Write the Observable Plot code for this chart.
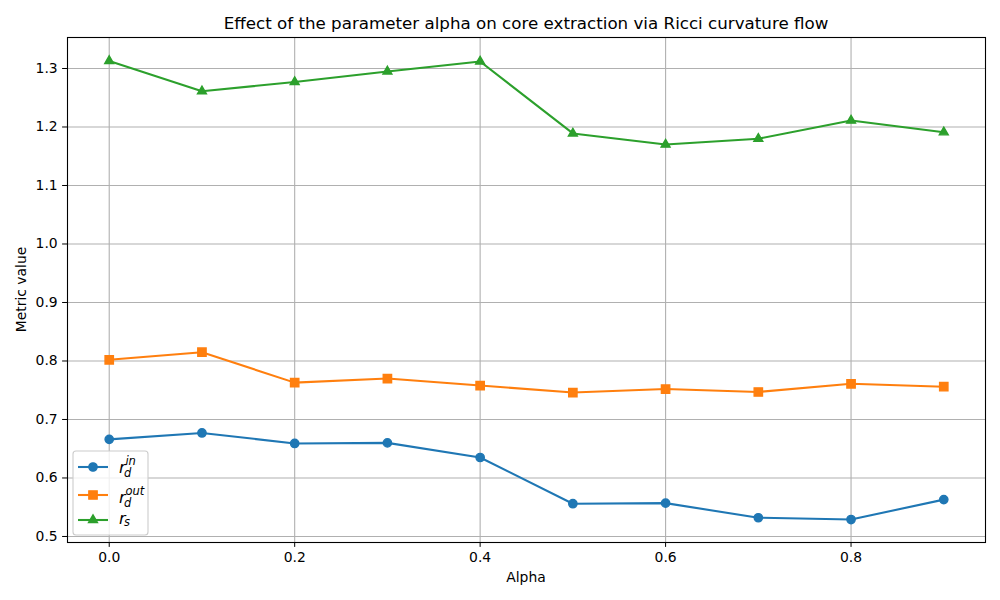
<!DOCTYPE html>
<html>
<head>
<meta charset="utf-8">
<script src="https://cdn.jsdelivr.net/npm/d3@7"></script>
<script src="https://cdn.jsdelivr.net/npm/@observablehq/plot@0.6"></script>
<style>
  html, body { margin: 0; padding: 0; background: white; }
  #chart { width: 1000px; height: 600px; }
</style>
</head>
<body>
<div id="chart"></div>
<script>
const alpha = [0.0, 0.1, 0.2, 0.3, 0.4, 0.5, 0.6, 0.7, 0.8, 0.9];
const rdIn  = [0.666, 0.677, 0.659, 0.660, 0.635, 0.556, 0.557, 0.532, 0.529, 0.563];
const rdOut = [0.802, 0.815, 0.763, 0.770, 0.758, 0.746, 0.752, 0.747, 0.761, 0.756];
const rs    = [1.313, 1.261, 1.277, 1.295, 1.312, 1.189, 1.170, 1.180, 1.211, 1.191];
const xTicks = [0.0, 0.2, 0.4, 0.6, 0.8];
const yTicks = [0.5, 0.6, 0.7, 0.8, 0.9, 1.0, 1.1, 1.2, 1.3];
const seriesNames = ["rdIn", "rdOut", "rs"];
const seriesColors = ["#1f77b4", "#ff7f0e", "#2ca02c"];
const seriesSymbols = ["circle", "square", "triangle"];
const legendBase = ["r", "r", "r"];
const legendSub = ["d", "d", "s"];
const legendSup = ["in", "out", ""];
const title = "Effect of the parameter alpha on core extraction via Ricci curvature flow";
const xLabel = "Alpha";
const yLabel = "Metric value";

const seriesValues = [rdIn, rdOut, rs];
const rows = [];
seriesValues.forEach((vals, i) => vals.forEach((v, j) => rows.push({series: seriesNames[i], alpha: alpha[j], value: v})));

const W = 1000, H = 600, mL = 67, mR = 15, mT = 37, mB = 58;
const fs = 13.9;
const symR = {circle: 4.17, square: 4.7, triangle: 3.32};
const edge = 1.39;

const marks = [
  Plot.gridX(xTicks, {stroke: "#b0b0b0", strokeOpacity: 1, strokeWidth: 1.1}),
  Plot.gridY(yTicks, {stroke: "#b0b0b0", strokeOpacity: 1, strokeWidth: 1.1}),
];
seriesNames.forEach((s, i) => {
  const d = rows.filter(r => r.series === s);
  marks.push(Plot.line(d, {x: "alpha", y: "value", stroke: seriesColors[i], strokeWidth: 2.08}));
  marks.push(Plot.dot(d, {x: "alpha", y: "value", fill: seriesColors[i], stroke: seriesColors[i], strokeWidth: edge, symbol: seriesSymbols[i], r: symR[seriesSymbols[i]]}));
});
marks.push(Plot.frame({stroke: "black", strokeWidth: 1.1}));
marks.push(Plot.axisX(xTicks, {tickFormat: d => d.toFixed(1), tickSize: 4.9, tickPadding: 4.5, label: null, fontSize: fs, stroke: "black"}));
marks.push(Plot.axisY(yTicks, {tickFormat: d => d.toFixed(1), tickSize: 4.9, tickPadding: 4.9, label: null, fontSize: fs, stroke: "black"}));

const svg = Plot.plot({
  width: W, height: H,
  marginLeft: mL, marginRight: mR, marginTop: mT, marginBottom: mB,
  style: {fontFamily: "DejaVu Sans", fontSize: fs + "px", background: "white", color: "black"},
  x: {domain: [-0.045, 0.945]},
  y: {domain: [0.4897, 1.353]},
  marks
});

const g = d3.select(svg);
const cx = (mL + (W - mR)) / 2;
g.append("text").attr("x", cx).attr("y", 29).attr("text-anchor", "middle")
  .attr("font-family", "DejaVu Sans").attr("font-size", 16.7).attr("fill", "black").text(title);
g.append("text").attr("x", cx).attr("y", 582).attr("text-anchor", "middle")
  .attr("font-family", "DejaVu Sans").attr("font-size", fs).attr("fill", "black").text(xLabel);
g.append("text").attr("transform", `translate(26,${(mT + H - mB) / 2}) rotate(-90)`).attr("text-anchor", "middle")
  .attr("font-family", "DejaVu Sans").attr("font-size", fs).attr("fill", "black").text(yLabel);

// legend
const lg = g.append("g").attr("text-anchor", "start");
lg.append("rect").attr("x", 73).attr("y", 451).attr("width", 75).attr("height", 84).attr("rx", 3)
  .attr("fill", "white").attr("fill-opacity", 0.8).attr("stroke", "#cccccc").attr("stroke-width", 1.1);
const rowsY = [467, 495, 520];
const baseY = [472.5, 502.5, 523.5];
const symMap = {circle: d3.symbolCircle, square: d3.symbolSquare, triangle: d3.symbolTriangle};
seriesNames.forEach((s, i) => {
  const y = rowsY[i];
  lg.append("line").attr("x1", 78).attr("x2", 108).attr("y1", y).attr("y2", y)
    .attr("stroke", seriesColors[i]).attr("stroke-width", 2.08);
  const rr = symR[seriesSymbols[i]];
  lg.append("path").attr("transform", `translate(93,${y})`).attr("d", d3.symbol(symMap[seriesSymbols[i]], Math.PI * rr * rr)())
    .attr("fill", seriesColors[i]).attr("stroke", seriesColors[i]).attr("stroke-width", edge);
  const t = lg.append("text").attr("x", 119).attr("y", baseY[i]).attr("text-anchor", "start")
    .attr("font-family", "DejaVu Sans").attr("font-style", "italic").attr("font-size", 16).attr("fill", "black");
  t.append("tspan").text(legendBase[i]);
  const subDy = legendSup[i] ? 4 : 2;
  t.append("tspan").attr("dx", -1.5).attr("dy", subDy).attr("font-size", 11.5).text(legendSub[i]);
  if (legendSup[i]) {
    t.append("tspan").attr("dx", -6).attr("dy", -12).attr("font-size", 11.5).text(legendSup[i]);
  }
});

document.getElementById("chart").appendChild(svg);
</script>
</body>
</html>
